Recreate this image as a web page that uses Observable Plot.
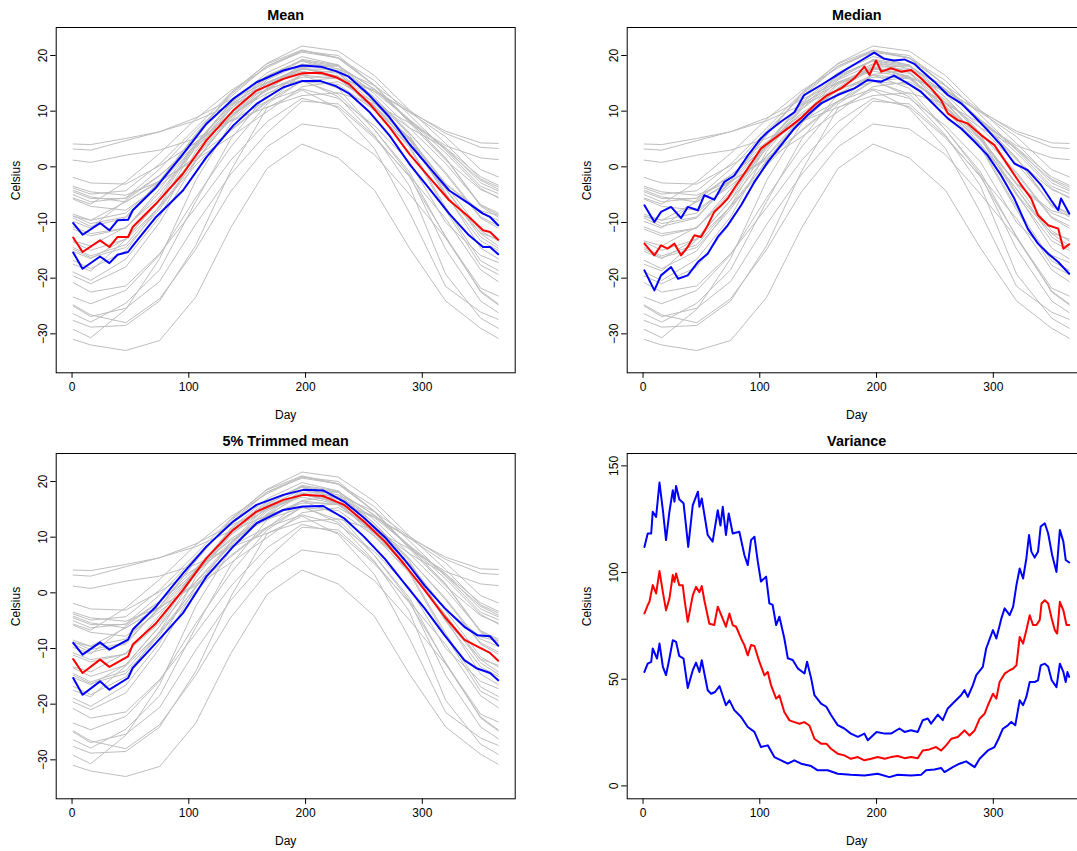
<!DOCTYPE html>
<html>
<head>
<meta charset="utf-8">
<script src="https://cdn.jsdelivr.net/npm/d3@7"></script>
<script src="https://cdn.jsdelivr.net/npm/@observablehq/plot@0.6"></script>
<style>
  html, body { margin: 0; padding: 0; background: #fff; overflow: hidden; }
  #wrap { position: relative; width: 1077px; height: 851px; overflow: hidden; background: #fff; }
  #wrap > div { position: absolute; width: 571px; height: 426px; }
  #wrap svg { overflow: visible; max-width: none !important; }
</style>
</head>
<body>
<div id="wrap"></div>
<script>
// ---------------- DATA ----------------
const panelTitles = ["Mean", "Median", "5% Trimmed mean", "Variance"];
const dayTicks = [0, 100, 200, 300];
const tempTicks = [-30, -20, -10, 0, 10, 20];
const varTicks = [0, 50, 100, 150];

// Gray curves: 35 stations, sampled at day 1, mid-month and day 365
const grayDays = [1, 16, 46, 75, 106, 136, 167, 197, 228, 259, 289, 320, 350, 365];
const stations = ["St. Johns","Halifax","Sydney","Yarmouth","Charlottetown","Fredericton","Scheffervll","Arvida","Bagottville","Quebec","Sherbrooke","Montreal","Ottawa","Toronto","London","Thunder Bay","Winnipeg","The Pas","Churchill","Regina","Pr. Albert","Uranium Cty","Edmonton","Calgary","Kamloops","Vancouver","Victoria","Pr. George","Pr. Rupert","Whitehorse","Dawson","Yellowknife","Iqaluit","Inuvik","Resolute"];
const stationTemps = [
  [-3.5, -4.5, -5.1, -2.6, 1.3, 5.4, 9.9, 14.4, 15.3, 11.6, 7.0, 3.4, -1.8, -3.3],
  [-4.5, -5.7, -5.7, -1.5, 3.6, 9.0, 13.8, 17.9, 18.1, 14.0, 8.5, 3.4, -2.9, -4.3],
  [-4.2, -5.4, -6.3, -2.7, 1.6, 6.5, 11.6, 16.6, 17.3, 13.5, 8.4, 3.1, -2.4, -4.0],
  [-1.9, -2.9, -3.1, 0.2, 4.4, 8.3, 11.8, 15.4, 16.0, 13.6, 9.8, 5.4, -0.5, -1.8],
  [-5.8, -7.1, -7.8, -3.4, 1.9, 8.4, 14.2, 18.4, 18.2, 13.9, 8.3, 2.5, -3.9, -5.6],
  [-8.5, -9.6, -8.3, -2.9, 3.7, 10.5, 15.8, 19.3, 18.3, 13.1, 7.0, 0.6, -6.8, -8.3],
  [-20.8, -22.5, -21.4, -15.6, -7.3, 1.2, 8.1, 12.3, 10.8, 5.2, -1.6, -9.3, -18.5, -20.6],
  [-14.5, -16.0, -14.0, -7.0, 1.0, 9.0, 15.0, 18.0, 16.0, 11.0, 4.0, -4.0, -12.0, -14.2],
  [-14.8, -16.3, -14.5, -7.6, 1.2, 8.7, 14.7, 17.7, 16.2, 10.7, 4.1, -4.0, -12.6, -14.6],
  [-11.2, -12.4, -11.0, -4.6, 3.3, 10.8, 16.3, 19.1, 17.6, 12.5, 6.1, -1.3, -9.2, -11.0],
  [-10.8, -12.0, -11.0, -4.0, 4.0, 11.0, 16.0, 19.0, 17.0, 12.0, 6.0, -1.0, -9.0, -10.6],
  [-8.8, -10.2, -9.0, -2.5, 5.7, 13.0, 18.1, 20.9, 19.5, 14.6, 8.2, 1.6, -6.9, -8.6],
  [-9.2, -10.7, -9.2, -2.6, 5.9, 13.2, 18.5, 21.0, 19.6, 14.7, 8.2, 1.5, -7.1, -9.0],
  [-3.8, -4.9, -4.3, 0.5, 7.0, 13.3, 18.6, 21.7, 20.8, 16.4, 10.2, 4.2, -2.2, -3.6],
  [-5.0, -6.3, -5.6, -0.4, 6.5, 12.6, 18.1, 20.6, 19.6, 15.5, 9.3, 3.0, -3.5, -4.8],
  [-13.5, -15.0, -13.0, -6.0, 2.0, 9.0, 14.0, 17.6, 16.8, 11.4, 5.1, -3.2, -11.5, -13.3],
  [-16.8, -18.3, -15.1, -7.0, 3.8, 11.6, 16.9, 19.8, 18.3, 12.4, 5.7, -4.7, -14.6, -16.5],
  [-19.6, -21.0, -18.0, -10.0, 1.0, 9.0, 15.6, 18.5, 17.0, 10.4, 3.5, -7.8, -17.7, -19.3],
  [-25.0, -26.9, -25.4, -20.6, -10.3, -1.3, 6.1, 11.8, 11.3, 5.5, -1.8, -12.5, -22.5, -24.8],
  [-15.2, -16.5, -12.9, -6.0, 4.1, 11.4, 16.4, 19.1, 18.1, 11.6, 5.1, -5.1, -13.3, -15.0],
  [-18.9, -20.4, -16.6, -9.0, 2.8, 10.4, 15.2, 17.7, 16.3, 10.1, 3.8, -7.3, -16.9, -18.6],
  [-23.4, -24.6, -22.2, -15.8, -5.5, 3.6, 11.3, 15.4, 13.1, 6.7, -0.9, -12.7, -21.8, -23.2],
  [-13.3, -14.2, -10.8, -5.4, 4.3, 11.3, 15.0, 17.2, 16.0, 10.7, 5.0, -5.0, -11.9, -13.0],
  [-8.9, -9.6, -6.3, -2.5, 4.1, 9.7, 13.7, 16.5, 15.8, 10.9, 5.3, -3.0, -7.9, -8.7],
  [-5.6, -6.7, -2.7, 2.4, 8.6, 13.7, 17.8, 20.8, 20.0, 14.6, 7.9, 1.2, -4.1, -5.4],
  [3.2, 3.0, 4.7, 6.3, 8.8, 12.1, 15.2, 17.5, 17.6, 14.6, 10.1, 6.0, 3.5, 3.3],
  [4.1, 4.0, 5.1, 6.3, 8.3, 11.1, 13.9, 16.1, 16.1, 13.8, 9.9, 6.4, 4.3, 4.2],
  [-9.8, -11.0, -6.0, -1.6, 4.4, 9.4, 13.2, 15.3, 14.8, 10.2, 4.8, -3.1, -8.3, -9.6],
  [1.2, 0.8, 2.1, 3.0, 5.1, 8.2, 10.7, 12.8, 13.3, 11.3, 7.9, 3.8, 1.6, 1.3],
  [-17.5, -18.7, -13.1, -7.2, 0.3, 6.7, 11.8, 14.0, 12.3, 7.4, 0.9, -10.0, -15.9, -17.2],
  [-29.2, -30.7, -25.6, -16.5, -2.4, 7.8, 14.1, 15.6, 12.6, 5.7, -3.4, -19.3, -27.2, -29.0],
  [-26.4, -27.9, -24.5, -18.5, -6.2, 5.0, 13.1, 16.5, 14.1, 6.7, -1.4, -14.8, -24.1, -26.2],
  [-24.8, -26.6, -28.0, -23.7, -14.8, -4.4, 3.6, 7.7, 6.8, 2.2, -4.9, -12.8, -22.3, -24.6],
  [-27.6, -28.8, -28.5, -24.1, -14.1, -0.7, 10.6, 13.8, 10.5, 3.3, -8.2, -21.5, -26.1, -27.4],
  [-31.0, -32.0, -33.0, -31.2, -23.4, -10.9, -0.3, 4.1, 1.6, -4.2, -14.6, -24.1, -29.0, -30.8]
];

// Mean panel: [day, value]
const meanCenter = [[1,-12.7],[9,-15.3],[24,-13.2],[32,-14.4],[39,-12.6],[48,-12.6],[52,-10.8],[72,-6.6],[95,-1.25],[115,4.7],[138,10.1],[158,13.7],[181,15.8],[197,16.8],[213,16.9],[226,16.1],[237,14.9],[255,11.3],[272,7.1],[289,2.3],[306,-1.9],[323,-6.0],[340,-9.0],[352,-11.4],[358,-11.7],[365,-13.1]];
const meanUpper = [[1,-10.1],[9,-12.2],[24,-10.1],[32,-11.4],[39,-9.6],[48,-9.5],[52,-7.8],[72,-3.7],[95,2.3],[115,7.7],[138,12.2],[158,15.2],[181,17.3],[197,18.2],[213,18.0],[226,17.2],[237,16.2],[255,12.8],[272,8.9],[289,4.1],[306,-0.1],[323,-4.25],[340,-6.6],[352,-8.4],[358,-9.0],[365,-10.5]];
const meanLower = [[1,-15.4],[9,-18.3],[24,-16.1],[32,-17.3],[39,-15.8],[48,-15.3],[52,-14.2],[72,-9.0],[95,-4.25],[115,1.7],[138,7.4],[158,11.3],[181,14.3],[197,15.4],[213,15.4],[226,14.5],[237,13.2],[255,9.8],[272,5.6],[289,0.5],[306,-3.9],[323,-8.4],[340,-12.3],[352,-14.4],[358,-14.4],[365,-15.7]];

// Median panel
const medianCenter = [[1.2,-13.8],[9.7,-15.9],[15.4,-14.1],[21,-14.7],[26.9,-13.8],[32.6,-15.9],[38.3,-14.4],[44,-12.3],[49.7,-12.6],[55.4,-10.5],[61,-8.1],[67,-6.9],[72.5,-5.7],[78,-3.9],[89.7,-0.3],[101,3.3],[112.5,5.1],[124,6.9],[135,8.7],[147,11.1],[158,12.9],[169.6,14.1],[181,15.9],[189.6,18.0],[194,16.5],[199.6,19.1],[204,17.1],[212.4,17.7],[221,17.1],[229.6,17.4],[238,15.9],[246.7,14.1],[255.3,12.0],[261,9.6],[269.5,8.4],[278,7.8],[289.5,5.7],[301,3.9],[312.4,0.3],[324,-3.3],[332.5,-5.7],[338.3,-8.7],[347,-10.5],[355.6,-11.1],[360,-14.7],[365,-13.9]];
const medianUpper = [[1.2,-6.9],[9.7,-9.9],[15.4,-8.1],[24,-7.2],[32.6,-9.2],[38.3,-7.2],[47,-7.8],[52.5,-5.1],[61,-5.9],[69.7,-2.7],[78,-1.6],[89.7,2.0],[101,5.1],[107,6.3],[118,8.1],[129.6,9.8],[138,12.9],[152.5,14.7],[164,16.2],[175.3,17.7],[186.7,19.1],[198,20.5],[206.7,19.4],[215,19.1],[223.8,19.3],[232.3,18.5],[238,17.4],[249.5,15.3],[261,12.9],[272.4,11.4],[284,9.0],[295,6.6],[306.6,3.9],[318,0.6],[329.5,-0.6],[341,-3.3],[349.5,-6.0],[355.6,-7.8],[358,-5.7],[365,-8.4]];
const medianLower = [[1.2,-18.6],[9.7,-22.2],[15.4,-19.5],[24,-18.0],[30,-20.1],[38.3,-19.5],[47,-17.1],[55.4,-15.6],[64,-12.6],[72.5,-10.5],[84,-6.9],[95.5,-2.7],[107,0.9],[118.3,3.9],[129.6,6.9],[141,9.3],[152.5,11.4],[166.7,12.9],[181,14.1],[192.4,15.6],[204,15.3],[215,16.4],[226.7,15.0],[238,13.5],[249.5,11.1],[261,8.7],[272.4,6.9],[284,4.5],[295,2.1],[306.6,-1.5],[318,-5.7],[329.5,-11.1],[338.3,-13.8],[347,-15.6],[355.6,-17.1],[365,-19.2]];

// 5% trimmed mean panel
const trimCenter = [[1,-11.9],[9,-14.4],[24,-12.0],[32,-13.3],[48,-11.4],[52,-9.3],[72,-5.45],[95,0.5],[115,6.2],[138,11.3],[158,14.6],[181,16.7],[198,17.6],[215,17.4],[233,15.8],[250,12.8],[268,9.2],[285,5.0],[302,0.5],[319,-4.25],[336,-8.4],[347,-9.6],[358,-10.8],[365,-12.2]];
const trimUpper = [[1,-9.0],[9,-11.1],[24,-8.9],[32,-10.2],[48,-8.4],[52,-6.6],[72,-2.45],[95,3.5],[115,8.3],[138,12.8],[158,15.8],[181,17.6],[198,18.5],[215,18.4],[233,16.4],[250,13.5],[268,10.0],[285,5.9],[302,1.3],[319,-2.7],[336,-6.1],[347,-7.6],[358,-7.8],[365,-9.5]];
const trimLower = [[1,-15.3],[9,-18.3],[24,-15.9],[32,-17.4],[48,-15.3],[52,-13.5],[72,-9.0],[95,-3.65],[115,2.9],[138,8.3],[158,12.5],[181,14.9],[198,15.5],[215,15.6],[233,13.4],[250,10.1],[268,6.1],[285,1.6],[302,-2.8],[319,-7.6],[336,-12.1],[347,-13.6],[358,-14.4],[365,-15.7]];

// Variance panel
const varCenter = [[1.2,80.8],[4,84.7],[5.5,86.3],[8.3,94.1],[11.2,90.2],[14.1,100.7],[17,90.8],[19.7,82.3],[22.6,87.8],[25.5,98.8],[26.9,95.6],[28.3,99.6],[31,94.1],[34,94.1],[35.4,87.8],[38.3,76.9],[42.6,89.3],[45.4,93.3],[48.3,90.8],[50.3,93.7],[52.5,87],[56.8,76],[61,75.4],[64,84],[67,80],[71,74.6],[74,80.8],[76.8,75.4],[79.7,74.6],[84,69.1],[86.8,66],[89.7,61.2],[92.5,66],[95.4,65.6],[99.7,58.1],[104,51.8],[106.8,53.4],[109.7,47.1],[114,40.9],[116.8,42.4],[121,34.6],[125.4,30.7],[129.6,29.9],[134,29.1],[138,29.9],[142.5,28.3],[146.8,22.1],[152.5,19.8],[157,19.8],[161,17.4],[166.7,15.1],[172.4,14.3],[178,12.7],[184,13.5],[189.6,12],[195.3,12.7],[201,13.5],[207,12.7],[212.4,13.5],[218,14],[224,13],[229.5,13.5],[235.3,13],[239.6,16.6],[245.3,17.1],[251,18.2],[255.3,16.6],[259.6,19],[264,22.1],[269.6,22.9],[275.3,26],[279.6,23.6],[284,26],[288.3,31.5],[292.5,33.8],[295.4,37.8],[299.7,43.2],[302.6,40.9],[305.4,48.7],[309.7,52.6],[314,54.2],[317,55],[319.8,56.5],[322.6,69.8],[325.5,66.7],[328.3,73],[331.2,80],[334,75.4],[337,75.4],[339.8,77.8],[341.3,85.5],[344.1,87],[347,85.5],[350,78.5],[352.7,73],[354.7,71.4],[357,86.3],[360,82.3],[362.7,75.4],[365,75.4]];
const varUpper = [[1.2,112],[4,118.3],[7,118.3],[8.3,128.5],[11.2,126.1],[14.1,142.2],[17,129.2],[19.7,115.2],[22.6,128.5],[25.5,138.6],[26.9,133.2],[28.3,140.6],[31,134.4],[34.7,132.5],[36.8,122],[38.7,112],[42.6,131.6],[47,137.9],[48.3,130.8],[50.3,134.7],[55.4,117.6],[59.6,114.5],[64,129.2],[66.3,122],[68.3,130.8],[71,117.6],[73.4,127.7],[76.8,118.3],[82.5,119.1],[86.8,108.2],[89.7,103.5],[92.5,115.2],[95.4,116.8],[98.3,105.1],[101,95.8],[105.4,98.1],[108.2,85.6],[111,84.8],[114,75.4],[116.8,79.3],[121,69.2],[124,59.8],[128.2,59],[132.5,55.1],[138.3,52.7],[140.5,58.2],[144,50.4],[146.8,42.5],[152.5,38.6],[157,37.1],[161,33.2],[166.7,28.5],[172.4,26.9],[178,24.5],[184,23],[189.6,24.5],[192.5,21.4],[200,25.3],[207,24.5],[212.4,24.5],[219.6,26.9],[224,25.3],[229.5,26.1],[235.3,25.3],[239.6,30.8],[243.9,31.6],[246.7,29.2],[252.5,33.4],[256.7,30.8],[261,36.3],[266.7,39.4],[272.4,42.5],[275.3,44.9],[278.2,41.7],[282.5,47.2],[285.4,51.9],[291,55.8],[293.9,64.4],[299.7,73],[302.6,69.1],[306.9,78.5],[309.7,83.2],[314,80],[317,84],[319.8,94.1],[322.6,101.9],[325.5,97.2],[328.3,106.6],[330.6,117.6],[332.6,109.8],[335.4,107],[338.3,109.8],[340.6,121.6],[344.1,123.1],[347,118.3],[350.4,108.2],[354.1,100.3],[357,120],[360,114.5],[362,105.9],[365,104.7]];
const varLower = [[1.2,53.4],[4,57.3],[7,58.1],[8.3,64.4],[12,59.7],[14.1,66.7],[17,55.8],[19.7,51.9],[22.6,59.7],[25.5,68.3],[28.3,67.5],[31,60.9],[34.7,59.7],[38.3,45.9],[42.6,54.2],[45.4,57.8],[48.3,53.4],[50.3,58.9],[55.4,44.8],[58.3,43.2],[61.7,44],[65.5,46.8],[71,37.8],[74,40.1],[78.2,35.5],[84,32.3],[89.7,27.6],[95.4,25.3],[101,18.2],[106.8,19],[112.5,13.5],[118.3,12],[124,10.4],[129.6,12],[135.4,10.4],[144,9.3],[149.6,7.3],[158.2,7.3],[166.7,5.7],[178,5.2],[189.6,4.9],[201,5.7],[211,4.1],[218,5.2],[229.5,4.9],[238.2,5.2],[242.4,7.3],[249.6,7.7],[255.3,8.4],[258.2,6.5],[265.3,8.8],[271,10.4],[276.7,11.5],[284,8.8],[288.3,12.7],[295.4,16.6],[301,18.2],[304.5,22.1],[308.2,26.8],[312.5,28.4],[315.4,30],[318.8,28.4],[322.6,40.1],[325.5,37.8],[328.3,41.7],[331.2,48.7],[335.4,48.7],[338.3,49.5],[340.6,56.5],[344.1,57.3],[347,55.8],[350,49.5],[354.1,46.3],[357,57.3],[360,53.4],[362,48.7],[363.5,53.4],[365,51.1]];

// ---------------- DRAWING ----------------
const FONT = "'Liberation Sans', Arial, Helvetica, sans-serif";
const X_DOMAIN = [-13.56, 379.56];
const TEMP_DOMAIN = [-37.0, 25.03];
const VAR_DOMAIN = [-6.05, 155.8];

const grayRows = stations.flatMap((s, i) =>
  grayDays.map((d, j) => ({station: s, day: d, temp: stationTemps[i][j]})));

function panel({title, yDomain, yTicks, gray, center, upper, lower}) {
  const xy = {x: d => d[0], y: d => d[1]};
  return Plot.plot({
    width: 571,
    height: 426,
    marginLeft: 55.7,
    marginRight: 56.3,
    marginTop: 27,
    marginBottom: 53.7,
    x: {domain: X_DOMAIN},
    y: {domain: yDomain},
    style: {fontFamily: FONT, fontSize: "12px", background: "transparent", color: "black", overflow: "visible", maxWidth: "none"},
    marks: [
      gray ? Plot.line(grayRows, {x: "day", y: "temp", z: "station", stroke: "#bebebe", strokeWidth: 1}) : null,
      Plot.line(center, {...xy, stroke: "#ff0000", strokeWidth: 2}),
      Plot.line(upper, {...xy, stroke: "#0000ff", strokeWidth: 2}),
      Plot.line(lower, {...xy, stroke: "#0000ff", strokeWidth: 2}),
      Plot.frame({stroke: "black", strokeWidth: 1}),
      Plot.axisX({ticks: dayTicks, tickSize: 5.5, tickPadding: 4, label: null, fontSize: 12}),
      Plot.axisY({ticks: yTicks, tickSize: 5.5, tickRotate: -90, tickFormat: d => String(d).replace("-", "\u2212"), label: null, fontSize: 12}),
      Plot.text([title], {text: d => d, frameAnchor: "top", lineAnchor: "bottom", dy: -7.5, fontWeight: "bold", fontSize: 14.4}),
      Plot.text(["Day"], {text: d => d, frameAnchor: "bottom", dy: 46, fontSize: 12}),
      Plot.text(["Celsius"], {text: d => d, frameAnchor: "left", dx: -40, rotate: -90, fontSize: 12})
    ]
  });
}

const specs = [
  {title: panelTitles[0], yDomain: TEMP_DOMAIN, yTicks: tempTicks, gray: true, center: meanCenter, upper: meanUpper, lower: meanLower, left: 0, top: 0},
  {title: panelTitles[1], yDomain: TEMP_DOMAIN, yTicks: tempTicks, gray: true, center: medianCenter, upper: medianUpper, lower: medianLower, left: 570.6, top: 0},
  {title: panelTitles[2], yDomain: TEMP_DOMAIN, yTicks: tempTicks, gray: true, center: trimCenter, upper: trimUpper, lower: trimLower, left: 0, top: 426.3},
  {title: panelTitles[3], yDomain: VAR_DOMAIN, yTicks: varTicks, gray: false, center: varCenter, upper: varUpper, lower: varLower, left: 570.6, top: 426.3}
];

const wrap = document.getElementById("wrap");
for (const s of specs) {
  const holder = document.createElement("div");
  holder.style.left = s.left + "px";
  holder.style.top = s.top + "px";
  const svg = panel(s);
  svg.style.maxWidth = "none";
  svg.setAttribute("width", 571);
  svg.setAttribute("height", 426);
  holder.appendChild(svg);
  wrap.appendChild(holder);
}
</script>
</body>
</html>
